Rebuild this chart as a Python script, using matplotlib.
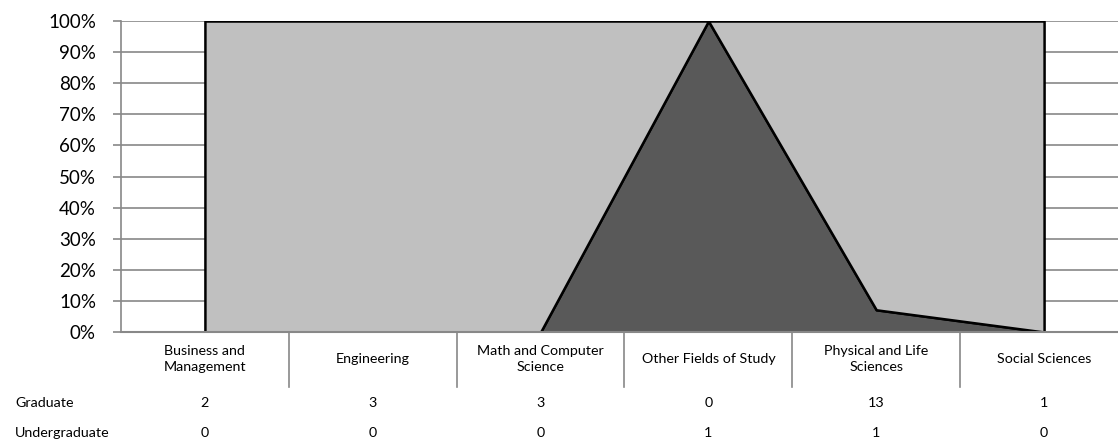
import numpy as np
import matplotlib.pyplot as plt
from matplotlib.ticker import PercentFormatter
from matplotlib.transforms import blended_transform_factory

categories = ["Business and\nManagement", "Engineering", "Math and Computer\nScience",
              "Other Fields of Study", "Physical and Life\nSciences", "Social Sciences"]
row_names = ["Graduate", "Undergraduate"]
graduate = [2, 3, 3, 0, 13, 1]
undergraduate = [0, 0, 0, 1, 1, 0]

plt.rcParams['font.family'] = ['Lato', 'DejaVu Sans']

W, H = 1118, 441
fig = plt.figure(figsize=(W / 100, H / 100), dpi=100)
# plot area runs slightly past the right edge of the picture, as in the original
left, right, top, bottom = 121, 1128, 21, 332
ax = fig.add_axes([left / W, (H - bottom) / H, (right - left) / W, (bottom - top) / H])

grad = np.array(graduate, dtype=float)
under = np.array(undergraduate, dtype=float)
total = grad + under
x = np.arange(len(categories))

ax.stackplot(x, under / total, grad / total, colors=["#595959", "#c0c0c0"],
             edgecolor="black", linewidth=1.8, zorder=3)

ax.set_xlim(-0.5, len(categories) - 0.5)
ax.set_ylim(0, 1)
ax.set_yticks(np.arange(0, 1.01, 0.1))
ax.yaxis.set_major_formatter(PercentFormatter(1.0, decimals=0))
ax.tick_params(axis="y", length=6, width=1.2, color="#888888", labelsize=13.5, pad=12)
ax.set_xticks([])
ax.grid(axis="y", color="#888888", linewidth=1.2, zorder=1)
for s in ["top", "right"]:
    ax.spines[s].set_visible(False)
ax.spines["left"].set_color("#888888")
ax.spines["left"].set_linewidth(1.2)
ax.spines["bottom"].set_color("#888888")
ax.spines["bottom"].set_linewidth(1.5)
ax.spines["bottom"].set_zorder(4)

# data table under the chart
tr = blended_transform_factory(ax.transData, ax.transAxes)
for i, cat in enumerate(categories):
    ax.text(i, -0.087, cat, transform=tr, ha="center", va="center", fontsize=10.3,
            linespacing=1.45)
    ax.text(i, -0.228, str(graduate[i]), transform=tr, ha="center", va="center", fontsize=10.3)
    ax.text(i, -0.325, str(undergraduate[i]), transform=tr, ha="center", va="center", fontsize=10.3)
for b in np.arange(0.5, len(categories) - 0.5, 1.0):
    ax.plot([b, b], [0, -0.177], transform=tr, color="#888888", linewidth=1.2, clip_on=False)

for j, name in enumerate(row_names):
    ax.text(15 / W, [-0.228, -0.325][j], name, transform=blended_transform_factory(fig.transFigure, ax.transAxes),
            ha="left", va="center", fontsize=10.3)

fig.savefig("out.png", dpi=100)
